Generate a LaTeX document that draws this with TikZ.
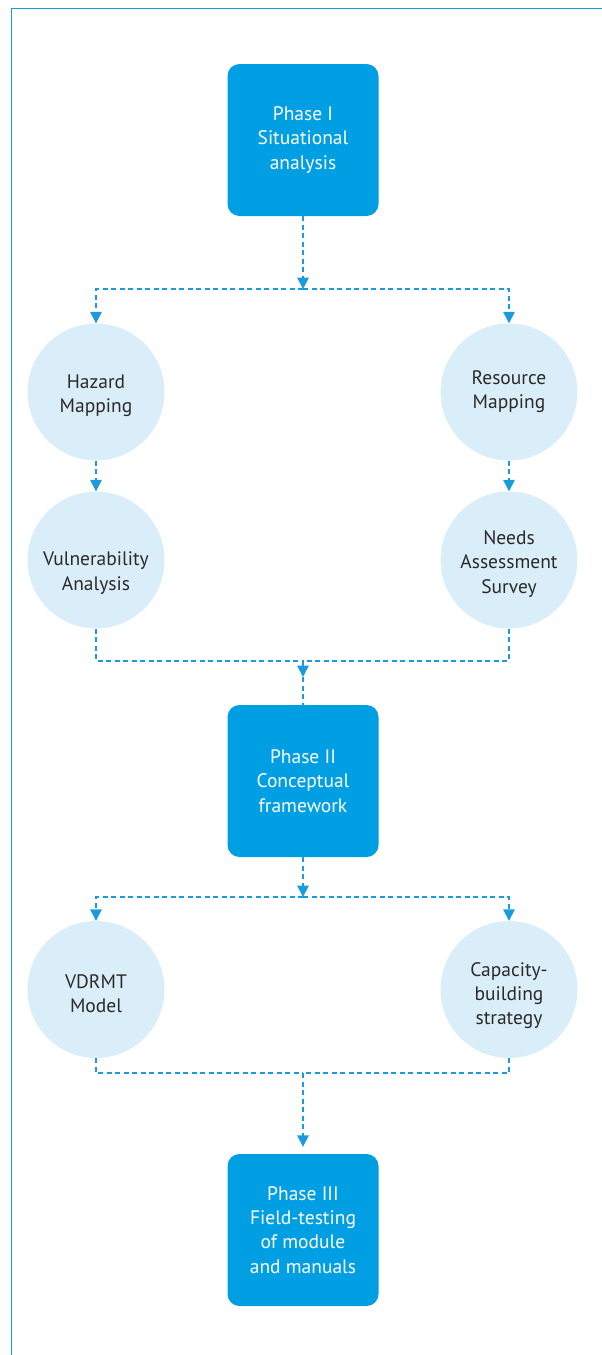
\documentclass[tikz,border=0pt]{standalone}
\usepackage{fontspec}
\setmainfont{PT Sans}
\usetikzlibrary{arrows.meta}
\definecolor{cyanbox}{HTML}{009FE3}
\definecolor{circfill}{HTML}{DAEEFA}
\definecolor{txtgray}{HTML}{2B2A29}
\definecolor{lin}{HTML}{1A9CDC}
\begin{document}
\begin{tikzpicture}[x=1pt,y=-1pt,
  phase/.style={fill=cyanbox, rounded corners=12pt, minimum width=151pt, minimum height=152pt,
    text=white, align=center, inner sep=0pt, font=\fontsize{19.5}{24.3}\selectfont},
  bubble/.style={circle, fill=circfill, minimum size=137pt, inner sep=0pt},
  btext/.style={text=txtgray, align=center, inner sep=0pt, font=\fontsize{19.5}{24.3}\selectfont},
  dline/.style={draw=lin, line width=1.6pt, dash pattern=on 5pt off 3.5pt},
  tip/.style={-{Triangle[length=11.5pt,width=11.5pt]}}
]
\useasboundingbox (0,0) rectangle (602,1355);
% frame
\draw[lin, line width=1.3pt] (602,8.5) -- (11.5,8.5) -- (11.5,1355);

% phase boxes
\node[phase] (p1) at (303,140) {Phase I\\Situational\\analysis};
\node[phase] (p2) at (303,781) {Phase II\\Conceptual\\framework};
\node[phase] (p3) at (303,1230) {Phase III\\Field-testing\\of module\\and manuals};

% circles
\node[bubble, label={[btext,yshift=-4pt]center:{Hazard\\Mapping}}] (hazard) at (96,392) {};
\node[bubble, label={[btext]center:{Resource\\Mapping}}] (resource) at (509,392) {};
\node[bubble, label={[btext,yshift=-13pt]center:{Vulnerability\\Analysis}}] (vuln) at (96,560) {};
\node[bubble, label={[btext,yshift=-4pt]center:{Needs\\Assessment\\Survey}}] (needs) at (509,560) {};
\node[bubble, label={[btext,yshift=-4pt]center:{VDRMT\\Model}}] (vdrmt) at (96,989.5) {};
\node[bubble, label={[btext,yshift=-6pt]center:{Capacity-\\building\\strategy}}] (cap) at (509,989.5) {};

% junctions
\coordinate (j1) at (303,289);
\coordinate (j2) at (303,661);
\coordinate (a2) at (303,677);
\coordinate (j3) at (303,897);
\coordinate (j4) at (303,1073);

% connectors
\draw[dline,tip] (p1.south) -- (j1);
\draw[dline,tip] (j1) -| (hazard.north);
\draw[dline,tip] (j1) -| (resource.north);
\draw[dline,tip] (hazard) -- (vuln);
\draw[dline,tip] (resource) -- (needs);
\draw[dline] (vuln.south) |- (j2);
\draw[dline] (needs.south) |- (j2);
\draw[dline,tip] (j2) -- (a2);
\draw[dline] (a2) -- (p2.north);
\draw[dline,tip] (p2.south) -- (j3);
\draw[dline,tip] (j3) -| (vdrmt.north);
\draw[dline,tip] (j3) -| (cap.north);
\draw[dline] (vdrmt.south) |- (j4);
\draw[dline] (cap.south) |- (j4);
\draw[dline,tip,shorten >=7pt] (j4) -- (p3.north);
\end{tikzpicture}
\end{document}
